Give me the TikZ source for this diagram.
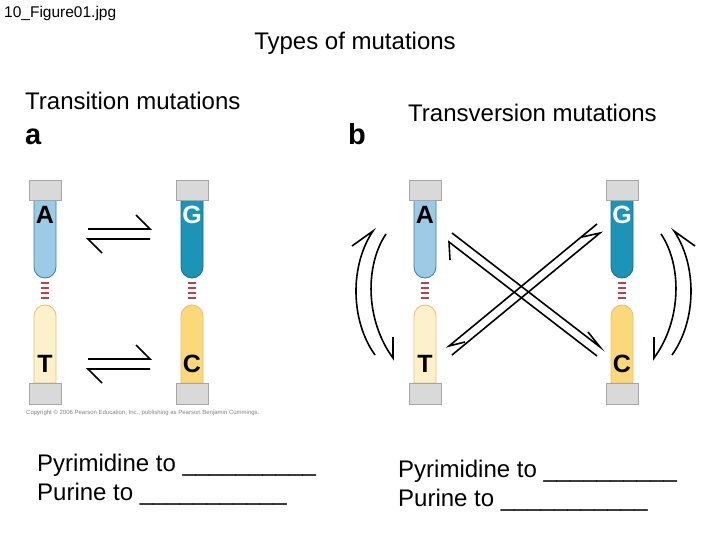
\documentclass[tikz,border=0pt]{standalone}
\usepackage{fontspec}
\setmainfont{Liberation Sans}
\definecolor{capgray}{HTML}{D9D9D9}
\definecolor{capedge}{HTML}{A6A6A6}
\definecolor{blueA}{HTML}{9DCBE5}
\definecolor{blueAedge}{HTML}{2F7FB0}
\definecolor{blueG}{HTML}{1B94B8}
\definecolor{blueGedge}{HTML}{146E8C}
\definecolor{yellowT}{HTML}{FDF1CB}
\definecolor{yellowC}{HTML}{FBD97A}
\definecolor{yellowedge}{HTML}{E3C06A}
\definecolor{bondred}{HTML}{C0404A}
\tikzset{
  endcap/.style={fill=capgray,draw=capedge,line width=0.6pt},
  base/.style={line width=0.8pt},
  bond/.style={bondred,line width=1.6pt},
  harp/.style={line width=1.6pt,black},
  letter/.style={font=\bfseries\fontsize{25}{25}\selectfont,inner sep=0pt},
  title/.style={font=\fontsize{24}{26}\selectfont,anchor=base west,inner sep=0pt}
}
\begin{document}
\begin{tikzpicture}[x=1pt,y=1pt]
	\useasboundingbox (0,0) rectangle (720,-540);
	% texts
	\node[anchor=base west,inner sep=0pt,font=\fontsize{15.5}{16}\selectfont] (file) at (4,-18) {10\_Figure01.jpg};
	\node[title,anchor=base] (heading) at (355,-50) {Types of mutations};
	\node[title] (transition) at (25,-110) {Transition mutations};
	\node[title] (transversion) at (408,-122) {Transversion mutations};
	\node[anchor=base west,inner sep=0pt,font=\bfseries\fontsize{29}{29}\selectfont] (pa) at (25,-145) {a};
	\node[anchor=base west,inner sep=0pt,font=\bfseries\fontsize{29}{29}\selectfont] (pb) at (348,-145) {b};
	\node[anchor=base west,inner sep=0pt,font=\fontsize{6}{7}\selectfont,gray] (copy) at (26,-414) {Copyright \copyright\ 2006 Pearson Education, Inc., publishing as Pearson Benjamin Cummings.};
	\node[title] (pyrA) at (37,-471) {Pyrimidine to \_\_\_\_\_\_\_\_\_\_};
	\node[title] (purA) at (37,-500) {Purine to \_\_\_\_\_\_\_\_\_\_\_};
	\node[title] (pyrB) at (398,-477) {Pyrimidine to \_\_\_\_\_\_\_\_\_\_};
	\node[title] (purB) at (398,-506) {Purine to \_\_\_\_\_\_\_\_\_\_\_};
	% base pairs
	\foreach \x/\tc/\te/\tl/\tt/\bc/\bl/\n in {45/blueA/blueAedge/A/black/yellowT/T/1,192/blueG/blueGedge/G/white/yellowC/C/2,425/blueA/blueAedge/A/black/yellowT/T/3,622/blueG/blueGedge/G/white/yellowC/C/4}{
		\draw[base,fill=\tc,draw=\te] (\x-11,-200) -- (\x-11,-267) arc[start angle=180,end angle=360,radius=11] -- (\x+11,-200) -- cycle;
		\draw[base,fill=\bc,draw=yellowedge] (\x-11,-383) -- (\x-11,-316) arc[start angle=180,end angle=0,radius=11] -- (\x+11,-383) -- cycle;
		\foreach \y in {283,288,293,298}{\draw[bond] (\x-4,-\y) -- (\x+4,-\y);}
		\draw[endcap] (\x-16,-180) rectangle (\x+16,-200);
		\draw[endcap] (\x-16,-383) rectangle (\x+16,-404);
		\node[letter,text=\tt] (top\n) at (\x,-215) {\tl};
		\node[letter] (bot\n) at (\x,-364) {\bl};
	}
	% transitions
	\foreach \y in {229,359}{
		\draw[harp] (88,-\y) -- (150,-\y) -- (136,-\y+14);
		\draw[harp] (150,-\y-10) -- (88,-\y-10) -- (102,-\y-24);
	}
	% transversions
	\draw[harp] (452,-233) -- (600,-347) -- (588,-332);
	\draw[harp] (597,-356) -- (449,-242) -- (450,-260);
	\draw[harp] (452,-355) -- (600,-233) -- (582,-237);
	\draw[harp] (597,-224) -- (449,-346) -- (465,-342);
	\draw[harp] (375,-355) .. controls (350,-320) and (350,-265) .. (373,-231) -- (352,-246);
	\draw[harp] (386,-234) .. controls (365,-265) and (365,-320) .. (393,-358) -- (393,-337);
	\draw[harp] (672,-355) .. controls (697,-320) and (697,-265) .. (674,-231) -- (695,-246);
	\draw[harp] (661,-234) .. controls (682,-265) and (682,-320) .. (654,-358) -- (654,-337);
\end{tikzpicture}
\end{document}
